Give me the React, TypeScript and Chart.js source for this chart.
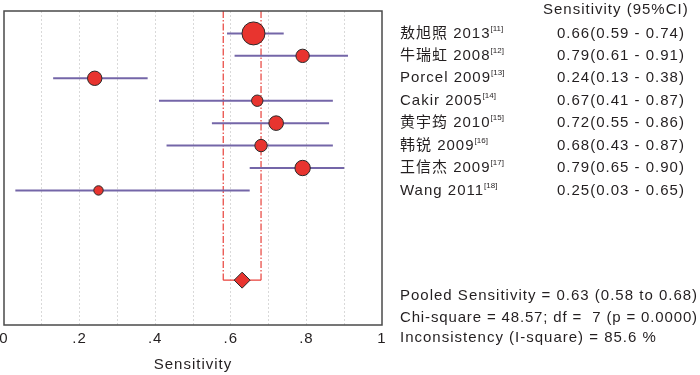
import React, { useEffect, useRef } from "react";
import { Chart, registerables } from "chart.js";

Chart.register(...registerables);

// ---------- data ----------
const xTickLabels = ["0", ".2", ".4", ".6", ".8", "1"];
const studyNames = ["敖旭照", "牛瑞虹", "Porcel", "Cakir", "黄宇筠", "韩锐", "王信杰", "Wang"];
const studyYears = ["2013", "2008", "2009", "2005", "2010", "2009", "2009", "2011"];
const studyRefs = ["[11]", "[12]", "[13]", "[14]", "[15]", "[16]", "[17]", "[18]"];
const sensitivity = [0.66, 0.79, 0.24, 0.67, 0.72, 0.68, 0.79, 0.25];
const ciLower = [0.59, 0.61, 0.13, 0.41, 0.55, 0.43, 0.65, 0.03];
const ciUpper = [0.74, 0.91, 0.38, 0.87, 0.86, 0.87, 0.9, 0.65];
const studyWeights = [11.5, 6.7, 7.2, 5.7, 7.3, 6.2, 7.7, 4.7];
const pooledEstimate = [0.63, 0.58, 0.68];
const headerText = "Sensitivity (95%CI)";
const axisTitle = "Sensitivity";
const statLines = [
  "Pooled Sensitivity = 0.63 (0.58 to 0.68)",
  "Chi-square = 48.57; df =  7 (p = 0.0000)",
  "Inconsistency (I-square) = 85.6 %",
];

const FONT = '"Liberation Sans", "Noto Sans CJK SC", sans-serif';
const TEXT = "#231f20";
const POOLED_ROW = 12;
const SPACING = "1px";

const overlayPlugin = {
  id: "forestOverlay",
  beforeDraw(chart: any) {
    (chart.ctx as any).letterSpacing = SPACING;
  },
  beforeDatasetsDraw(chart: any) {
    const { ctx, chartArea, scales } = chart;
    const xs = scales.x;
    const ys = scales.y;
    ctx.save();
    // pooled CI reference lines (dash-dot)
    const yTop = chartArea.top;
    const yPool = ys.getPixelForValue(POOLED_ROW);
    ctx.strokeStyle = "#e8413a";
    ctx.lineWidth = 1.2;
    ctx.setLineDash([7, 2, 1.5, 2]);
    [pooledEstimate[1], pooledEstimate[2]].forEach((v) => {
      const px = xs.getPixelForValue(v);
      ctx.beginPath();
      ctx.moveTo(px, yTop);
      ctx.lineTo(px, yPool);
      ctx.stroke();
    });
    ctx.setLineDash([]);
    ctx.beginPath();
    ctx.moveTo(xs.getPixelForValue(pooledEstimate[1]), yPool);
    ctx.lineTo(xs.getPixelForValue(pooledEstimate[2]), yPool);
    ctx.stroke();
    // study CI lines
    ctx.strokeStyle = "#7466a8";
    ctx.lineWidth = 2;
    sensitivity.forEach((_, i) => {
      const py = ys.getPixelForValue(i + 1);
      ctx.beginPath();
      ctx.moveTo(xs.getPixelForValue(ciLower[i]), py);
      ctx.lineTo(xs.getPixelForValue(ciUpper[i]), py);
      ctx.stroke();
    });
    ctx.restore();
  },
  afterDraw(chart: any) {
    const { ctx, chartArea, scales } = chart;
    const ys = scales.y;
    ctx.save();
    // plot frame
    ctx.strokeStyle = "#4a4a4a";
    ctx.lineWidth = 1.5;
    ctx.strokeRect(chartArea.left, chartArea.top, chartArea.right - chartArea.left, chartArea.bottom - chartArea.top);

    (ctx as any).letterSpacing = SPACING;
    ctx.fillStyle = TEXT;
    ctx.textBaseline = "middle";
    ctx.textAlign = "left";
    ctx.font = `15px ${FONT}`;
    const labelX = chartArea.right + 18;
    const valueX = chartArea.right + 175;
    ctx.fillText(headerText, chartArea.right + 161, ys.getPixelForValue(0) - 1);
    studyNames.forEach((name, i) => {
      const py = ys.getPixelForValue(i + 1);
      ctx.font = `15px ${FONT}`;
      (ctx as any).letterSpacing = SPACING;
      const main = `${name} ${studyYears[i]}`;
      ctx.fillText(main, labelX, py);
      const w = ctx.measureText(main).width;
      ctx.font = `8px ${FONT}`;
      (ctx as any).letterSpacing = "0px";
      ctx.fillText(studyRefs[i], labelX + w, py - 5);
      ctx.font = `15px ${FONT}`;
      (ctx as any).letterSpacing = SPACING;
      const val = `${sensitivity[i].toFixed(2)}(${ciLower[i].toFixed(2)} - ${ciUpper[i].toFixed(2)})`;
      ctx.fillText(val, valueX, py);
    });
    const statRows = [12.72, 13.66, 14.57];
    statLines.forEach((s, i) => {
      ctx.font = `15px ${FONT}`;
      (ctx as any).letterSpacing = i === 1 ? "0.85px" : SPACING;
      ctx.fillText(s, labelX, ys.getPixelForValue(statRows[i]));
    });
    ctx.restore();
    (ctx as any).letterSpacing = "0px";
  },
};

export default function App() {
  const canvasRef = useRef<HTMLCanvasElement | null>(null);

  useEffect(() => {
    document.body.style.margin = "0";
    const canvas = canvasRef.current;
    if (!canvas) return;
    const chart = new Chart(canvas, {
      type: "scatter",
      data: {
        datasets: [
          {
            data: sensitivity.map((v, i) => ({ x: v, y: i + 1 })),
            pointRadius: studyWeights,
            pointStyle: "circle",
            backgroundColor: "#e8342f",
            borderColor: "#2a2a2a",
            borderWidth: 1,
            clip: false,
          },
          {
            data: [{ x: pooledEstimate[0], y: POOLED_ROW }],
            pointRadius: 8,
            pointStyle: "rectRot",
            backgroundColor: "#e8342f",
            borderColor: "#2a2a2a",
            borderWidth: 1,
            clip: false,
          },
        ],
      },
      options: {
        animation: false,
        responsive: false,
        layout: { autoPadding: false, padding: { left: 4, right: 318, top: 11, bottom: 0 } },
        plugins: { legend: { display: false }, tooltip: { enabled: false } },
        scales: {
          x: {
            type: "linear",
            min: 0,
            max: 1,
            ticks: {
              stepSize: 0.1,
              autoSkip: false,
              maxRotation: 0,
              padding: 5,
              color: TEXT,
              font: { family: FONT, size: 15 },
              callback: (v: any) => {
                const k = Math.round(Number(v) * 10);
                return k % 2 === 0 ? xTickLabels[k / 2] : "";
              },
            },
            grid: {
              drawTicks: false,
              color: "#d9d9d9",
              lineWidth: (c: any) => {
                const v = c.tick ? c.tick.value : 0;
                return v <= 0.001 || v >= 0.999 ? 0 : 1;
              },
            },
            border: { display: false, dash: [2, 2] },
            title: {
              display: true,
              text: axisTitle,
              color: TEXT,
              font: { family: FONT, size: 15 },
              padding: { top: 0, bottom: 1 },
            },
            afterFit: (s: any) => {
              s.height = 50;
              s.paddingLeft = 0;
              s.paddingRight = 0;
            },
          },
          y: { type: "linear", min: 0, max: 14, reverse: true, display: false },
        },
      },
      plugins: [overlayPlugin],
    } as any);
    return () => chart.destroy();
  }, []);

  return (
    <div style={{ width: 700, height: 375 }}>
      <canvas ref={canvasRef} width={700} height={375} />
    </div>
  );
}
